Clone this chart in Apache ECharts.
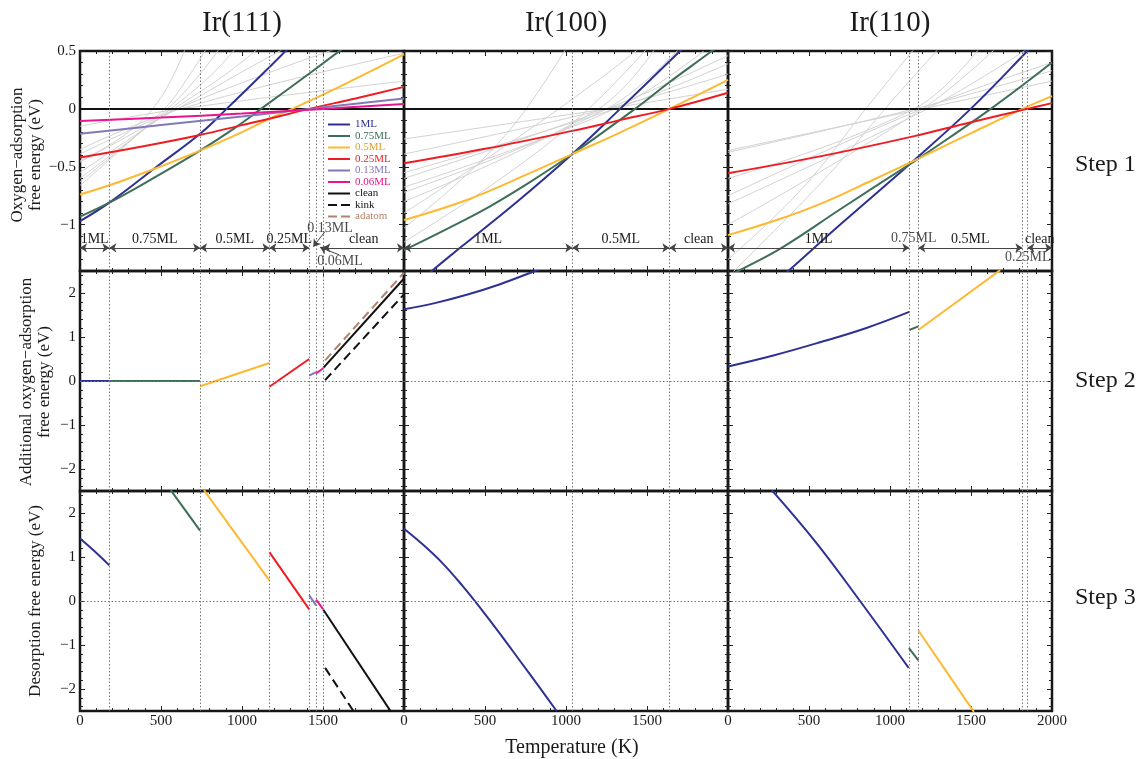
<!DOCTYPE html>
<html><head><meta charset="utf-8">
<script src="https://cdn.jsdelivr.net/npm/echarts@6/dist/echarts.min.js"></script>
<style>html,body{margin:0;padding:0;background:#fff}#c{width:1143px;height:759px}</style>
</head><body><div id="c"></div>
<script>
// ---------------- text ----------------
const surfaces = ['Ir(111)', 'Ir(100)', 'Ir(110)'];
const steps = ['Step 1', 'Step 2', 'Step 3'];
const rowNames = ['Oxygen\u2212adsorption\nfree energy (eV)', 'Additional oxygen\u2212adsorption\nfree energy (eV)', 'Desorption free energy (eV)'];
const xName = 'Temperature (K)';
const legendNames = ['1ML', '0.75ML', '0.5ML', '0.25ML', '0.13ML', '0.06ML', 'clean', 'kink', 'adatom'];

// ---------------- ticks ----------------
const xTicks = [0, 500, 1000, 1500, 2000];
const yTicksStep1 = [-1, -0.5, 0, 0.5];
const yMinorStep1 = [-1.3, -1.2, -1.1, -0.9, -0.8, -0.7, -0.6, -0.4, -0.3, -0.2, -0.1, 0.1, 0.2, 0.3, 0.4];
const yTicksStep23 = [-2, -1, 0, 1, 2];
const yMinorStep23 = [-2.4, -2.2, -1.8, -1.6, -1.4, -1.2, -0.8, -0.6, -0.4, -0.2, 0.2, 0.4, 0.6, 0.8, 1.2, 1.4, 1.6, 1.8, 2.2, 2.4];
const yRangeStep1 = [-1.4, 0.5];
const yRangeStep23 = [-2.5, 2.5];

// ---------------- phase transitions (K) ----------------
const trans111 = [181, 741, 1169, 1415, 1457, 1502];
const trans100 = [1039, 1638];
const trans110 = [1119, 1175, 1817, 1848];

// phase arrows: [label, from K, to K]
const phases111 = [['1ML', 0, 181], ['0.75ML', 181, 741], ['0.5ML', 741, 1169], ['0.25ML', 1169, 1415], ['clean', 1502, 2000]];
const phases100 = [['1ML', 0, 1039], ['0.5ML', 1039, 1638], ['clean', 1638, 2000]];
const phases110 = [['1ML', 0, 1119], ['0.5ML', 1175, 1817], ['clean', 1848, 2000]];
const phaseArrowLevel = -1.2;
// free phase labels [text, K, eV]
const notes111 = [['0.13ML', 1543, -1.03], ['0.06ML', 1605, -1.32]];
const notes110 = [['0.75ML', 1147, -1.12], ['0.25ML', 1850, -1.28]];
// pointer arrows [fromK, fromEV, toK, toEV]
const pointers111 = [[1512, -1.06, 1440, -1.19], [1599, -1.26, 1481, -1.195]];

// ---------------- Step 1: oxygen-adsorption free energy ----------------
const ads111_1ML = [[0,-0.97],[181,-0.81],[473,-0.50],[741,-0.215],[905,0],[1169,0.36],[1290,0.53]];
const ads111_075ML = [[0,-0.93],[181,-0.81],[450,-0.60],[741,-0.36],[950,-0.17],[1117,0],[1420,0.31],[1620,0.52]];
const ads111_05ML = [[0,-0.74],[181,-0.66],[473,-0.51],[741,-0.36],[1000,-0.2],[1169,-0.085],[1310,0],[1600,0.19],[2000,0.47]];
const ads111_025ML = [[0,-0.42],[400,-0.32],[741,-0.225],[1000,-0.14],[1169,-0.085],[1415,0],[1700,0.09],[2000,0.19]];
const ads111_013ML = [[0,-0.215],[500,-0.14],[1000,-0.065],[1415,0],[1700,0.045],[2000,0.09]];
const ads111_006ML = [[0,-0.105],[500,-0.075],[1000,-0.04],[1502,0],[2000,0.043]];
const other111 = [
  [[0,-0.15],[620,0],[2000,0.24]],
  [[0,-0.35],[620,0],[2000,0.48]],
  [[0,-0.39],[600,0],[1200,0.33],[1750,0.6]],
  [[0,-0.46],[600,0],[1000,0.32],[1300,0.55]],
  [[0,-0.55],[580,0],[900,0.3],[1100,0.52]],
  [[0,-0.60],[560,0],[800,0.28],[960,0.52]],
  [[0,-0.63],[540,0],[740,0.3],[860,0.52]],
  [[0,-0.66],[520,0],[680,0.3],[780,0.52]],
  [[0,-0.45],[300,-0.2],[500,0.1],[650,0.52]]
];
const ads100_1ML = [[0,-1.6],[171,-1.4],[346,-1.2],[700,-0.8],[1039,-0.39],[1334,0],[1704,0.5],[1750,0.56]];
const ads100_075ML = [[0,-1.22],[260,-1.04],[520,-0.85],[780,-0.63],[1039,-0.39],[1426,0],[1638,0.23],[1900,0.5],[2000,0.61]];
const ads100_05ML = [[0,-0.96],[400,-0.78],[800,-0.54],[1039,-0.39],[1340,-0.2],[1638,0],[2000,0.25]];
const ads100_025ML = [[0,-0.47],[500,-0.345],[1039,-0.19],[1340,-0.095],[1638,0],[2000,0.14]];
const other100 = [
  [[0,-0.26],[1250,0],[2000,0.17]],
  [[0,-0.39],[1250,0],[2000,0.3]],
  [[0,-0.55],[1300,0],[2000,0.39]],
  [[0,-0.60],[1250,0],[2000,0.46]],
  [[0,-0.675],[1300,0],[1850,0.5]],
  [[0,-0.72],[1250,0],[1700,0.52]],
  [[0,-0.80],[1200,0],[1550,0.52]],
  [[0,-1.03],[400,-0.55],[700,-0.1],[1000,0.52]],
  [[0,-0.9],[700,-0.25],[1200,0.25],[1450,0.52]],
  [[0,-1.15],[600,-0.6],[1100,-0.05],[1500,0.52]]
];
const ads110_1ML = [[250,-1.55],[372,-1.4],[700,-0.99],[1119,-0.48],[1498,0],[1848,0.5],[1900,0.58]];
const ads110_075ML = [[0,-1.45],[64,-1.4],[331,-1.2],[700,-0.86],[1119,-0.48],[1175,-0.43],[1622,0],[2000,0.4]];
const ads110_05ML = [[0,-1.09],[300,-0.96],[570,-0.82],[900,-0.61],[1175,-0.43],[1500,-0.21],[1817,0],[2000,0.11]];
const ads110_025ML = [[0,-0.555],[568,-0.41],[1150,-0.235],[1500,-0.115],[1848,0],[2000,0.05]];
const other110 = [
  [[0,-0.36],[1200,0],[2000,0.24]],
  [[0,-0.375],[1150,0],[2000,0.33]],
  [[0,-0.75],[1200,0],[2000,0.4]],
  [[0,-0.82],[1230,0],[1850,0.52]],
  [[0,-1.0],[1200,0],[1650,0.52]],
  [[0,-1.3],[450,-0.7],[850,0],[1150,0.52]],
  [[0,-1.45],[600,-0.6],[1000,0.05],[1300,0.52]],
  [[0,-0.6],[1150,0],[1550,0.52]]
];
const cleanLevel = [[0,0],[2000,0]];

// ---------------- Step 2: additional oxygen-adsorption free energy ----------------
const add111_1ML = [[0,0],[181,0]];
const add111_075ML = [[181,0],[741,0]];
const add111_05ML = [[741,-0.12],[1169,0.41]];
const add111_025ML = [[1169,-0.13],[1415,0.5]];
const add111_013ML = [[1415,0.12],[1457,0.2]];
const add111_006ML = [[1457,0.17],[1502,0.29]];
const add111_clean = [[1502,0.3],[2000,2.33]];
const add111_kink = [[1513,0.02],[2000,1.97]];
const add111_adatom = [[1513,0.47],[2000,2.46]];
const add100_1ML = [[0,1.63],[190,1.77],[387,1.96],[593,2.2],[809,2.5],[850,2.56]];
const add110_1ML = [[0,0.33],[280,0.58],[568,0.88],[850,1.2],[1119,1.57]];
const add110_075ML = [[1119,1.16],[1175,1.24]];
const add110_05ML = [[1175,1.16],[1680,2.52]];

// ---------------- Step 3: desorption free energy ----------------
const des111_1ML = [[0,1.42],[90,1.13],[181,0.81]];
const des111_075ML = [[560,2.52],[741,1.6]];
const des111_05ML = [[765,2.52],[1169,0.47]];
const des111_025ML = [[1169,1.11],[1415,-0.19]];
const des111_013ML = [[1415,0.13],[1457,-0.1]];
const des111_006ML = [[1457,0.03],[1502,-0.19]];
const des111_clean = [[1502,-0.2],[1920,-2.52]];
const des111_kink = [[1513,-1.52],[1693,-2.53]];
const des100_1ML = [[0,1.64],[120,1.27],[240,0.85],[360,0.35],[480,-0.2],[600,-0.78],[720,-1.38],[840,-1.98],[942,-2.5]];
const des110_1ML = [[270,2.52],[550,1.3],[815,0],[1115,-1.52]];
const des110_075ML = [[1117,-1.07],[1175,-1.35]];
const des110_05ML = [[1175,-0.67],[1518,-2.52]];

// ---------------- styles ----------------
const SERIF = "'Liberation Serif', 'DejaVu Serif', serif";
const TXT = '#1a1a1a';
const COL = {'1ML':'#2e3192','0.75ML':'#3f6e58','0.5ML':'#fdb931','0.25ML':'#ee1d24','0.13ML':'#8279b8','0.06ML':'#ec148c','clean':'#111111','kink':'#111111','adatom':'#b5826c'};
const LEGEND_TEXT = {'1ML':'#2e3192','0.75ML':'#3f6e58','0.5ML':'#e0a12e','0.25ML':'#ee1d24','0.13ML':'#8279b8','0.06ML':'#ec148c','clean':'#111','kink':'#111','adatom':'#b5826c'};
const GRAY = '#d2d2d2';
const GL = [80, 404, 728], GT = [51, 271, 491], GW = 324, GH = 220;
const fmt = v => (v < 0 ? '\u2212' + Math.abs(v) : String(v));

const grids = [], xAxes = [], yAxes = new Array(36);
for (let r = 0; r < 3; r++) for (let c = 0; c < 3; c++) {
  grids.push({left: GL[c], top: GT[r], width: GW, height: GH, show: true, borderColor: '#161616', borderWidth: 2.5, backgroundColor: 'transparent'});
}
const tickStyle = {color: '#222', width: 1};
for (let gi = 0; gi < 9; gi++) {
  const r = Math.floor(gi / 3), c = gi % 3;
  xAxes[gi] = {gridIndex: gi, type: 'value', min: xTicks[0], max: xTicks[xTicks.length - 1], interval: 500, position: 'bottom',
    axisLine: {show: false, onZero: false}, splitLine: {show: false},
    axisTick: {show: true, inside: true, length: 5, lineStyle: tickStyle},
    minorTick: {show: true, splitNumber: 5, length: 3, lineStyle: tickStyle},
    axisLabel: {show: r === 2, showMaxLabel: c === 2, margin: 3, formatter: v => String(v), fontFamily: SERIF, fontSize: 15, color: TXT}};
  xAxes[9 + gi] = Object.assign({}, xAxes[gi], {position: 'top', axisLabel: {show: false}});
  const rng = r === 0 ? yRangeStep1 : yRangeStep23;
  const maj = r === 0 ? yTicksStep1 : yTicksStep23;
  const mnr = r === 0 ? yMinorStep1 : yMinorStep23;
  const base = {gridIndex: gi, type: 'value', min: rng[0], max: rng[1], axisLine: {show: false, onZero: false}, splitLine: {show: false}};
  yAxes[gi] = Object.assign({}, base, {position: 'left',
    axisTick: {show: true, inside: true, length: 5, lineStyle: tickStyle, customValues: maj},
    axisLabel: {show: c === 0, customValues: maj, formatter: fmt, margin: 4, fontFamily: SERIF, fontSize: 15, color: TXT}});
  yAxes[9 + gi] = Object.assign({}, base, {position: 'right',
    axisTick: {show: true, inside: true, length: 5, lineStyle: tickStyle, customValues: maj}, axisLabel: {show: false}});
  yAxes[18 + gi] = Object.assign({}, base, {position: 'left',
    axisTick: {show: true, inside: true, length: 3, lineStyle: tickStyle, customValues: mnr}, axisLabel: {show: false}});
  yAxes[27 + gi] = Object.assign({}, base, {position: 'right',
    axisTick: {show: true, inside: true, length: 3, lineStyle: tickStyle, customValues: mnr}, axisLabel: {show: false}});
}

const series = [];
function add(gi, name, data, o) {
  o = o || {};
  const color = o.color || COL[name];
  series.push({
    type: 'line', name: name, xAxisIndex: gi, yAxisIndex: gi, data: data,
    symbol: 'none', showSymbol: false, silent: true, animation: false,
    smooth: data.length > 2 ? 0.4 : false,
    z: o.z || 4,
    lineStyle: {color: color, width: o.width || 2, type: o.dash || 'solid'},
    itemStyle: {color: color}
  });
}
function grays(gi, list) { list.forEach(d => add(gi, 'other', d, {color: GRAY, width: 1, z: 2})); }
const DOT = {type: [1.5, 2], color: '#777', width: 1};
function guides(gi, trans, zeroDotted) {
  const data = trans.map(x => ({xAxis: x}));
  if (zeroDotted) data.push({yAxis: 0});
  series.push({type: 'line', xAxisIndex: gi, yAxisIndex: gi, data: [], silent: true, z: 1,
    markLine: {silent: true, animation: false, symbol: ['none', 'none'], label: {show: false}, lineStyle: DOT, data: data}});
}
function arrows(gi, phases, pointers, notes) {
  const data = phases.map(p => [{name: p[0], coord: [p[1], phaseArrowLevel]}, {coord: [p[2], phaseArrowLevel]}]);
  (pointers || []).forEach(p => data.push([{name: '', coord: [p[0], p[1]], symbol: 'none', label: {show: false}}, {coord: [p[2], p[3]], symbol: 'arrow'}]));
  series.push({type: 'line', xAxisIndex: gi, yAxisIndex: gi, data: [], silent: true, z: 5,
    markLine: {silent: true, animation: false, symbol: ['arrow', 'arrow'], symbolSize: 7, precision: 3,
      lineStyle: {type: 'solid', color: '#444', width: 1},
      label: {show: true, position: 'insideMiddleTop', formatter: '{b}', distance: 2, fontFamily: SERIF, fontSize: 14, color: TXT},
      data: data}});
  if (notes && notes.length) series.push({type: 'scatter', xAxisIndex: gi, yAxisIndex: gi, silent: true, z: 6,
    symbolSize: 1, itemStyle: {color: 'rgba(0,0,0,0)'},
    data: notes.map(n => ({name: n[0], value: [n[1], n[2]]})),
    label: {show: true, position: 'inside', formatter: '{b}', fontFamily: SERIF, fontSize: 14, color: TXT}});
}
const DASH = [9, 5];

// Step 1
grays(0, other111); grays(1, other100); grays(2, other110);
add(0, 'clean', cleanLevel, {z: 3}); add(1, 'clean', cleanLevel, {z: 3}); add(2, 'clean', cleanLevel, {z: 3});
add(0, '1ML', ads111_1ML); add(0, '0.75ML', ads111_075ML); add(0, '0.5ML', ads111_05ML);
add(0, '0.25ML', ads111_025ML); add(0, '0.13ML', ads111_013ML); add(0, '0.06ML', ads111_006ML);
add(1, '1ML', ads100_1ML); add(1, '0.75ML', ads100_075ML); add(1, '0.5ML', ads100_05ML); add(1, '0.25ML', ads100_025ML);
add(2, '1ML', ads110_1ML); add(2, '0.75ML', ads110_075ML); add(2, '0.5ML', ads110_05ML); add(2, '0.25ML', ads110_025ML);
guides(0, trans111, false); guides(1, trans100, false); guides(2, trans110, false);
arrows(0, phases111, pointers111, notes111); arrows(1, phases100, [], []); arrows(2, phases110, [], notes110);

// Step 2
add(3, '1ML', add111_1ML); add(3, '0.75ML', add111_075ML); add(3, '0.5ML', add111_05ML); add(3, '0.25ML', add111_025ML);
add(3, '0.13ML', add111_013ML); add(3, '0.06ML', add111_006ML); add(3, 'clean', add111_clean);
add(3, 'kink', add111_kink, {dash: DASH}); add(3, 'adatom', add111_adatom, {dash: DASH});
add(4, '1ML', add100_1ML);
add(5, '1ML', add110_1ML); add(5, '0.75ML', add110_075ML); add(5, '0.5ML', add110_05ML);
guides(3, trans111, true); guides(4, trans100, true); guides(5, trans110, true);

// Step 3
add(6, '1ML', des111_1ML); add(6, '0.75ML', des111_075ML); add(6, '0.5ML', des111_05ML); add(6, '0.25ML', des111_025ML);
add(6, '0.13ML', des111_013ML); add(6, '0.06ML', des111_006ML); add(6, 'clean', des111_clean);
add(6, 'kink', des111_kink, {dash: DASH});
add(7, '1ML', des100_1ML);
add(8, '1ML', des110_1ML); add(8, '0.75ML', des110_075ML); add(8, '0.5ML', des110_05ML);
guides(6, trans111, true); guides(7, trans100, true); guides(8, trans110, true);

// ---------------- graphic text ----------------
const graphic = [];
surfaces.forEach((s, c) => graphic.push({type: 'text', x: GL[c] + GW / 2, y: 23,
  style: {text: s, fontFamily: SERIF, fontSize: 29, fill: TXT, textAlign: 'center', textVerticalAlign: 'middle'}}));
const stepY = [165, 381, 598];
steps.forEach((s, r) => graphic.push({type: 'text', x: 1075, y: stepY[r],
  style: {text: s, fontFamily: SERIF, fontSize: 24, fill: TXT, textAlign: 'left', textVerticalAlign: 'middle'}}));
const nameX = [27, 36, 36], nameY = [155, 382, 601];
rowNames.forEach((s, r) => graphic.push({type: 'text', x: nameX[r], y: nameY[r], rotation: Math.PI / 2,
  style: {text: s, fontFamily: SERIF, fontSize: 17, lineHeight: 18, fill: TXT, textAlign: 'center', textVerticalAlign: 'middle'}}));
graphic.push({type: 'text', x: 572, y: 748,
  style: {text: xName, fontFamily: SERIF, fontSize: 20, fill: TXT, textAlign: 'center', textVerticalAlign: 'middle'}});

const SOLID_ICON = 'path://M0,0h22v2h-22z';
const DASH_ICON = 'path://M0,0h9v2h-9zM13,0h9v2h-9z';
const chart = echarts.init(document.getElementById('c'), null, {renderer: 'canvas'});
chart.setOption({
  animation: false,
  backgroundColor: '#fff',
  grid: grids, xAxis: xAxes, yAxis: yAxes, series: series, graphic: graphic,
  legend: {left: 323, top: 114, orient: 'vertical', itemWidth: 22, itemHeight: 2, itemGap: 0.5, selectedMode: false,
    padding: 5, textStyle: {fontFamily: SERIF, fontSize: 11, lineHeight: 11},
    data: legendNames.map(n => ({name: n, icon: (n === 'kink' || n === 'adatom') ? DASH_ICON : SOLID_ICON,
      itemStyle: {color: COL[n]}, textStyle: {color: LEGEND_TEXT[n]}}))}
});
</script></body></html>
